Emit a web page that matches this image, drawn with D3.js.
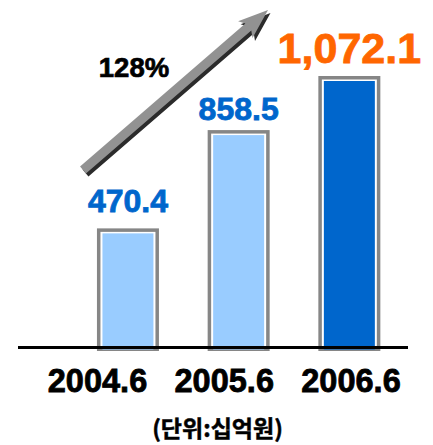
<!DOCTYPE html>
<html>
<head>
<meta charset="utf-8">
<script src="https://cdn.jsdelivr.net/npm/d3@7"></script>
<style>
  body { margin: 0; background: #fff; }
  svg { display: block; }
</style>
</head>
<body>
<div id="container"></div>
<script>
/* CONSTANTS AND GLOBALS */
const width = 433,
  height = 445;

// data
const periods = ["2004.6", "2005.6", "2006.6"];
const amounts = [470.4, 858.5, 1072.1];
const growthLabel = "128%";
const unitLabel = "(단위:십억원)";

const barColors = ["#99ccff", "#99ccff", "#0066cc"];
const labelColors = ["#0066cc", "#0066cc", "#ff6600"];
const labelSizes = [32, 32, 43];

const data = periods.map((p, i) => ({period: p, value: amounts[i]}));

const svg = d3.select("#container")
  .append("svg")
  .attr("width", width)
  .attr("height", height);

/* SCALES */
const baseY = 347.5;
const xScale = d3.scaleBand()
  .domain(periods)
  .range([72.6, 404.7])
  .paddingInner(0.44)
  .paddingOuter(0.22);

const yScale = d3.scaleLinear()
  .domain([0, 1072.1])
  .range([baseY, 76]);

// label positions (not centred on the bars in the original)
const labelScale = d3.scalePoint()
  .domain(periods)
  .range([97.5, 351]);

const border = 3.5, inset = 5;

/* BARS */
// gray frame
svg.selectAll(".frame")
  .data(data)
  .join("rect")
  .attr("class", "frame")
  .attr("x", d => xScale(d.period) + border / 2)
  .attr("y", d => yScale(d.value) + border / 2)
  .attr("width", xScale.bandwidth() - border)
  .attr("height", d => baseY - yScale(d.value))
  .attr("fill", "#fff")
  .attr("stroke", "#868686")
  .attr("stroke-width", border);

// fill
svg.selectAll(".bar")
  .data(data)
  .join("rect")
  .attr("class", "bar")
  .attr("x", d => xScale(d.period) + inset + 0.5)
  .attr("y", d => yScale(d.value) + inset)
  .attr("width", xScale.bandwidth() - 2 * inset - 1)
  .attr("height", d => baseY + 2 - yScale(d.value) - inset)
  .attr("fill", (d, i) => barColors[i]);

// baseline
svg.append("line")
  .attr("x1", 18).attr("x2", 408)
  .attr("y1", baseY).attr("y2", baseY)
  .attr("stroke", "#000")
  .attr("stroke-width", 3);

// value labels
svg.selectAll(".value")
  .data(data)
  .join("text")
  .attr("class", "value")
  .attr("x", d => xScale(d.period) + xScale.bandwidth() / 2)
  .attr("y", (d, i) => yScale(d.value) - (i == 0 ? 16 : i == 1 ? 10 : 13))
  .attr("text-anchor", "middle")
  .style("font-family", "'Liberation Sans', Arial, sans-serif")
  .style("font-weight", "bold")
  .style("font-size", (d, i) => labelSizes[i] + "px")
  .style("fill", (d, i) => labelColors[i])
  .style("stroke", (d, i) => labelColors[i])
  .style("stroke-width", 0.8)
  .text(d => d3.format(",.1f")(d.value));

// category labels
svg.selectAll(".cat")
  .data(data)
  .join("text")
  .attr("class", "cat")
  .attr("x", d => labelScale(d.period))
  .attr("y", 391.5)
  .attr("text-anchor", "middle")
  .style("font-family", "'Liberation Sans', Arial, sans-serif")
  .style("font-weight", "bold")
  .style("font-size", "32.5px")
  .style("fill", "#000")
  .style("stroke", "#000")
  .style("stroke-width", 0.8)
  .text(d => d.period);

// unit
svg.append("text")
  .attr("x", 217.5)
  .attr("y", 437)
  .attr("text-anchor", "middle")
  .style("font-family", "'Noto Sans CJK KR', sans-serif")
  .style("font-weight", "bold")
  .style("font-size", "23px")
  .style("stroke", "#000")
  .style("stroke-width", 0.5)
  .text(unitLabel);

/* GROWTH ARROW */
const x0 = 83, y0 = 170, x1 = 268, y1 = 10;
const len = Math.hypot(x1 - x0, y1 - y0),
  ang = Math.atan2(y1 - y0, x1 - x0) * 180 / Math.PI;
const sw = 4.5, hw = 11, hl = 26;
const arrowPath = `M0,${-sw} L${len - hl},${-sw} L${len - hl - 4},${-hw} L${len},0 L${len - hl - 4},${hw} L${len - hl},${sw} L0,${sw} Z`;

const arrow = svg.append("g")
  .attr("transform", `translate(${x0},${y0}) rotate(${ang})`);
arrow.append("path")
  .attr("d", arrowPath)
  .attr("transform", "rotate(" + (-ang) + ") translate(2.5,3) rotate(" + ang + ")")
  .attr("fill", "#2b2b2b");
arrow.append("path")
  .attr("d", arrowPath)
  .attr("fill", "#929292");

svg.append("text")
  .attr("x", 134)
  .attr("y", 77)
  .attr("text-anchor", "middle")
  .style("font-family", "'Liberation Sans', Arial, sans-serif")
  .style("font-weight", "bold")
  .style("font-size", "27.5px")
  .style("fill", "#000")
  .style("stroke", "#000")
  .style("stroke-width", 0.7)
  .text(growthLabel);
</script>
</body>
</html>
